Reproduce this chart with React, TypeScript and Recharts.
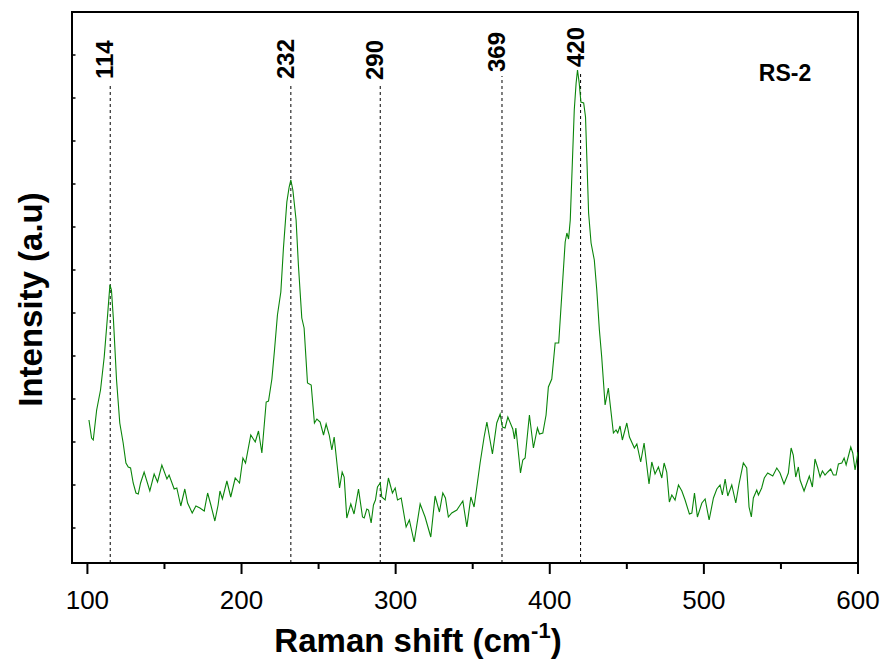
import { LineChart, Line, XAxis, YAxis, ReferenceLine, ReferenceArea } from "recharts";

// Raman shift (cm-1) and intensity (a.u.)
const shift = [
  101, 102.7, 103.8, 106, 108.5, 110.9, 113, 114.6, 115.6, 116.9,
  118.9, 121, 123.2, 125, 126.5, 128, 129.7, 131.5, 133, 134.5,
  136.8, 140.5, 143.3, 145.5, 148.3, 151.6, 153, 156.3, 158, 160.6,
  163.2, 165, 168, 170.4, 173, 175.8, 178, 180.1, 182.7, 184.8,
  186, 187.6, 190.5, 193, 195.9, 198.7, 200.9, 202.6, 206, 208.9,
  211, 213.2, 216, 217.5, 219.7, 221.4, 223.3, 225.5, 227.2, 229.4,
  230.9, 232, 233.3, 235.4, 236.9, 239.1, 240.6, 242.8, 245.2, 247.3,
  248.9, 251, 253.2, 254.9, 256.9, 258.6, 260.1, 263.6, 265.3, 266.6,
  268.3, 270.9, 273, 275.9, 278.5, 279.6, 281.3, 282.4, 284.1, 285.6,
  286.9, 288.2, 290, 291, 293.2, 295.3, 297.9, 299.7, 301.2, 303.6,
  306.8, 308.9, 312, 315.9, 319.1, 322.8, 325.6, 328.4, 330.6, 332.3,
  334.2, 336.4, 339.7, 343.6, 346.2, 348.8, 350.9, 354.8, 357.4, 359.2,
  362.8, 365.6, 367.8, 369.3, 371, 372.8, 376, 377.1, 378, 381,
  382.5, 384, 386.8, 389.4, 392, 393.3, 395.5, 397.6, 399.1, 401.3,
  403.5, 405.8, 410, 411.1, 412.2, 413.3, 415.9, 417.1, 418, 419.1,
  420.2, 422, 423.2, 425.2, 426.8, 428.9, 430.5, 432.2, 433.7, 435.9,
  438, 441.3, 443, 444.1, 445.6, 447.1, 450, 451.7, 454.9, 456.5,
  459, 461.2, 464.4, 466.2, 468.3, 470.5, 472.7, 474.2, 475.9, 477.6,
  479.2, 481.3, 483.5, 485.7, 487.8, 490.6, 492.2, 493.9, 495.8, 498.7,
  500.8, 503.4, 506.2, 508.4, 510.5, 512, 513.8, 515.5, 518.1, 520.7,
  522.8, 525.6, 527.8, 529.3, 530.8, 532.1, 534.3, 535.4, 537.5, 539.2,
  541.4, 544.7, 547.3, 549.4, 552, 553.8, 554.8, 556.6, 558, 559.6,
  561.3, 562.4, 565, 568.4, 570.4, 572.1, 573.9, 575.4, 576.9, 578.6,
  580.4, 582.3, 584, 585.8, 587.3, 589.5, 591, 592.3, 595.3, 596.6,
  598.1, 600,
];

const intensity = [
  143, 125, 123, 153, 173, 206, 246, 278, 273, 243,
  183, 140, 120, 100, 96, 95, 80, 70, 69, 80,
  91, 72, 89, 81, 98, 84, 88, 74, 75, 57,
  74, 60, 50, 57, 55, 52, 70, 58, 42, 58,
  72, 64, 82, 66, 85, 80, 105, 100, 128, 121,
  132, 110, 161, 162, 184, 213, 248, 271, 315, 361,
  376, 383, 373, 343, 298, 245, 235, 180, 178, 140,
  144, 141, 128, 139, 128, 113, 126, 75, 91, 86,
  45, 59, 49, 74, 46, 45, 54, 53, 40, 58,
  63, 76, 80, 66, 63, 85, 70, 75, 63, 65,
  36, 43, 21, 59, 46, 26, 67, 51, 70, 65,
  46, 50, 53, 62, 36, 66, 56, 100, 126, 141,
  109, 140, 149, 136, 135, 146, 134, 124, 135, 90,
  103, 105, 148, 115, 135, 129, 130, 148, 176, 184,
  220, 220, 321, 330, 324, 343, 453, 480, 493, 480,
  461, 460, 446, 350, 320, 303, 273, 233, 206, 158,
  175, 130, 133, 130, 137, 123, 140, 126, 115, 119,
  101, 120, 79, 101, 89, 96, 85, 100, 91, 61,
  68, 63, 78, 72, 63, 49, 50, 70, 46, 60,
  64, 43, 65, 74, 78, 68, 84, 67, 78, 60,
  79, 100, 95, 56, 46, 65, 73, 68, 75, 85,
  90, 87, 95, 90, 79, 86, 90, 115, 108, 86,
  96, 83, 72, 87, 76, 104, 95, 86, 92, 88,
  91, 94, 88, 88, 99, 100, 105, 98, 116, 110,
  93, 111,
];

// marked peaks: where the dashed line sits, its label, and how high it goes
const peakShift = [114.8, 232, 290, 369, 420];
const peakLabels = ["114", "232", "290", "369", "420"];
const peakTop = [480, 480, 479, 487, 492];

const xTicks = [100, 150, 200, 250, 300, 350, 400, 450, 500, 550, 600];
const yTicks = [35, 78, 121, 164, 207, 250, 293, 336, 379, 422, 465, 508, 551];

const data = shift.map((s, i) => ({ shift: s, intensity: intensity[i] }));

const FONT = "'Liberation Sans', Arial, sans-serif";

function XTick({ x, y, payload }: any) {
  const major = payload.value % 100 === 0;
  return (
    <g>
      <line x1={x} x2={x} y1={y} y2={y + (major ? 11 : 6)} stroke="#000" strokeWidth={2} />
      {major && (
        <text x={x} y={y + 46} textAnchor="middle" fontSize={26} fontFamily={FONT} fill="#000">
          {payload.value}
        </text>
      )}
    </g>
  );
}

function YTick({ x, y }: any) {
  return <line x1={x} x2={x + 3.5} y1={y} y2={y} stroke="#000" strokeWidth={1.5} />;
}

function XTitle({ viewBox }: any) {
  const cx = viewBox.x + 346;
  const cy = viewBox.y + 89;
  return (
    <text x={cx} y={cy} textAnchor="middle" fontSize={33} fontWeight="bold" fontFamily={FONT} fill="#000">
      Raman shift (cm
      <tspan fontSize={22} dy={-14}>-1</tspan>
      <tspan dy={14}>)</tspan>
    </text>
  );
}

function YTitle({ viewBox }: any) {
  const cx = viewBox.x - 41;
  const cy = viewBox.y + viewBox.height / 2 + 12;
  return (
    <text
      x={cx}
      y={cy}
      transform={`rotate(-90 ${cx} ${cy})`}
      textAnchor="middle"
      dominantBaseline="central"
      fontSize={33}
      fontWeight="bold"
      fontFamily={FONT}
      fill="#000"
    >
      Intensity (a.u)
    </text>
  );
}

function PeakLabel({ viewBox, text }: any) {
  const px = viewBox.x - 5.5;
  const py = viewBox.y - 4;
  return (
    <text
      x={px}
      y={py}
      transform={`rotate(-90 ${px} ${py})`}
      textAnchor="start"
      dominantBaseline="central"
      fontSize={24}
      fontWeight="bold"
      fontFamily={FONT}
      fill="#000"
    >
      {text}
    </text>
  );
}

function SampleTag({ viewBox }: any) {
  return (
    <text
      x={viewBox.x + viewBox.width - 73}
      y={viewBox.y + 69}
      textAnchor="middle"
      fontSize={23}
      fontWeight="bold"
      fontFamily={FONT}
      fill="#000"
    >
      RS-2
    </text>
  );
}

export default function App() {
  return (
    <div style={{ position: "absolute", left: 0, top: 0, background: "#fff" }}>
      <LineChart width={885} height={663} data={data} margin={{ top: 12, right: 27, bottom: 0, left: 71 }}>
        <XAxis
          dataKey="shift"
          type="number"
          domain={[90, 600]}
          ticks={xTicks}
          allowDataOverflow
          height={100}
          tickSize={0}
          tickMargin={0}
          tickLine={false}
          axisLine={false}
          tick={<XTick />}
          label={(props: any) => <XTitle {...props} />}
        />
        <YAxis
          type="number"
          domain={[0, 551]}
          ticks={yTicks}
          width={1}
          tickSize={0}
          tickMargin={0}
          tickLine={false}
          tick={<YTick />}
          axisLine={false}
          label={(props: any) => <YTitle {...props} />}
        />
        {peakShift.map((p, i) => (
          <ReferenceLine
            key={peakLabels[i]}
            segment={[{ x: p, y: 0 }, { x: p, y: peakTop[i] }]}
            stroke="#000"
            strokeWidth={1}
            strokeDasharray="3 3"
            label={(props: any) => <PeakLabel {...props} text={peakLabels[i]} />}
          />
        ))}
        <Line
          type="linear"
          dataKey="intensity"
          stroke="#0a850a"
          strokeWidth={1.1}
          dot={false}
          isAnimationActive={false}
        />
        <ReferenceArea
          x1={90}
          x2={600}
          y1={0}
          y2={551}
          fill="none"
          stroke="#000"
          strokeWidth={2}
          label={(props: any) => <SampleTag {...props} />}
        />
      </LineChart>
    </div>
  );
}
